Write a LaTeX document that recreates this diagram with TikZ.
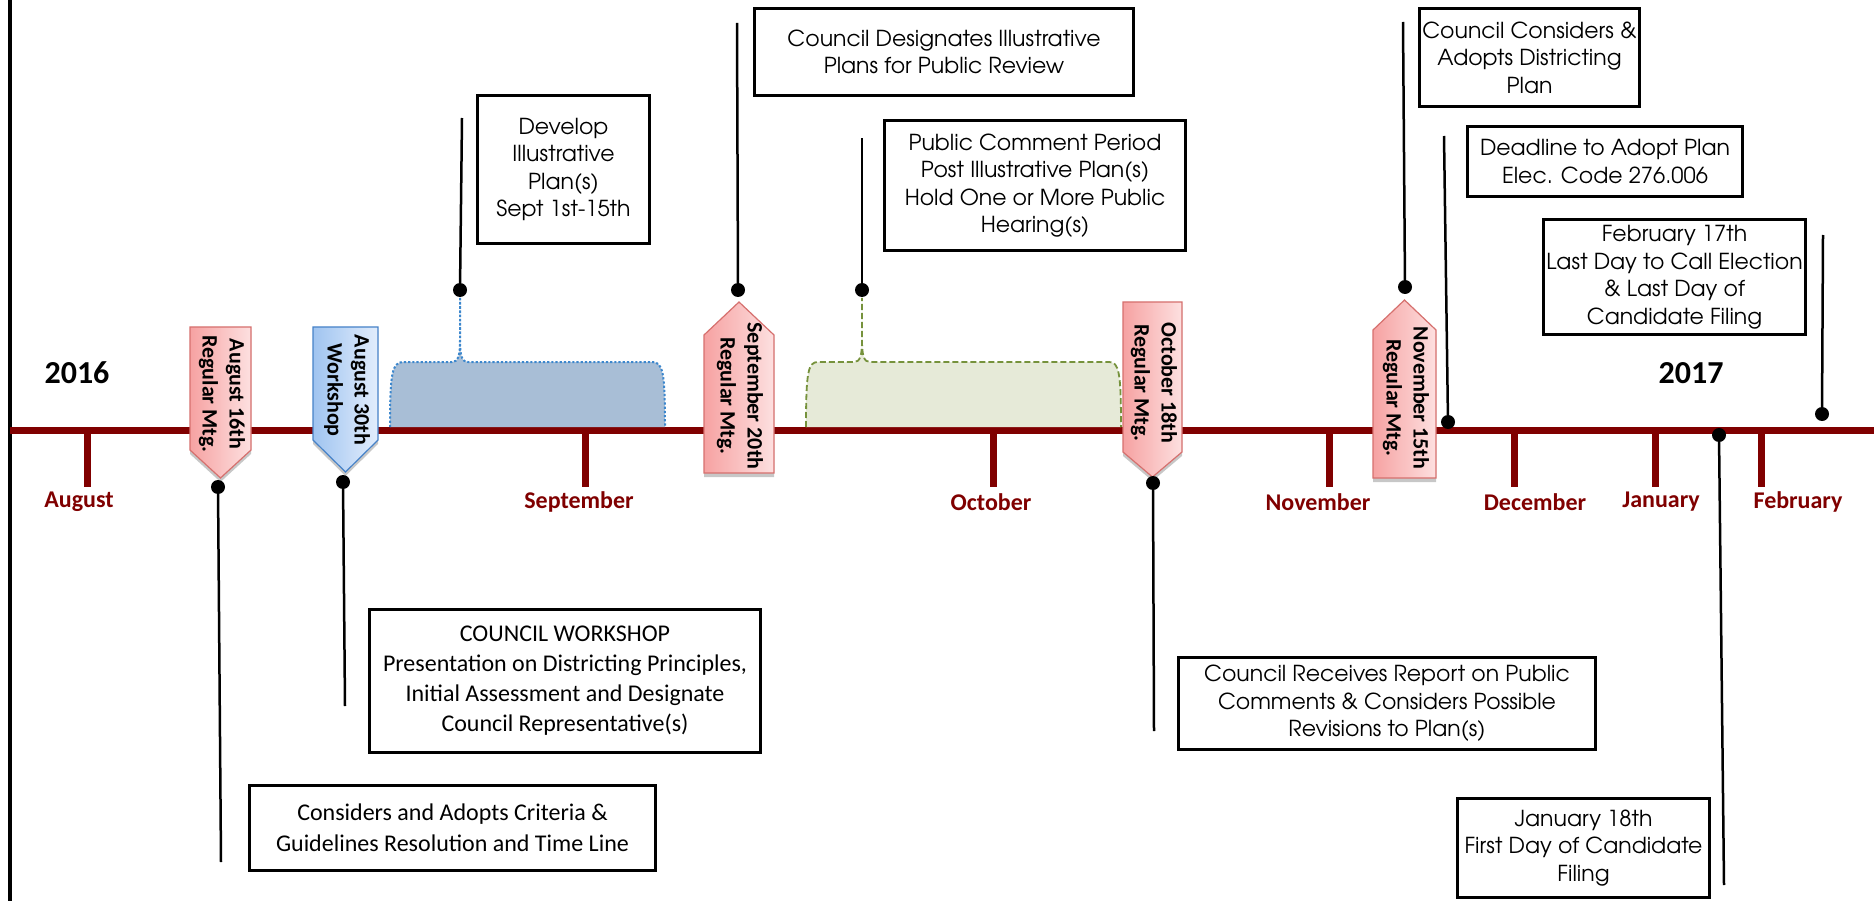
\documentclass[tikz,border=0pt]{standalone}
\usepackage{fontspec}
\usetikzlibrary{shadows}
\newfontfamily\calibrifont{Carlito}
\newfontfamily\gothicfont{TeX Gyre Adventor}
\definecolor{tlred}{RGB}{128,0,0}
\definecolor{tagredL}{RGB}{246,162,162}
\definecolor{tagredR}{RGB}{253,224,224}
\definecolor{tagredB}{RGB}{214,112,110}
\definecolor{tagblueL}{RGB}{160,196,240}
\definecolor{tagblueR}{RGB}{226,237,252}
\definecolor{tagblueB}{RGB}{70,130,200}
\definecolor{blueFill}{RGB}{168,190,214}
\definecolor{blueLine}{RGB}{60,135,205}
\definecolor{greenFill}{RGB}{230,234,216}
\definecolor{greenLine}{RGB}{118,146,60}
\begin{document}
\begin{tikzpicture}[x=1pt,y=-1pt,
  tl/.style={line width=7pt, draw=tlred},
  mtick/.style={line width=7pt, draw=tlred},
  month/.style={text=tlred, inner sep=0pt, font=\calibrifont\bfseries\fontsize{24}{28}\selectfont},
  year/.style={inner sep=0pt, font=\calibrifont\bfseries\fontsize{32}{36}\selectfont},
  gbox/.style={draw=black, line width=3pt, align=center, inner xsep=0pt, inner ysep=0pt, font=\gothicfont\fontsize{22}{27.5}\selectfont},
  cbox/.style={gbox, font=\calibrifont\fontsize{24}{30}\selectfont},
  dot/.style={circle, fill=black, inner sep=0pt, minimum size=14pt},
  conn/.style={line width=2.5pt, draw=black},
  tagred/.style={draw=tagredB, line width=1.2pt, left color=tagredL, right color=tagredR,
     drop shadow={shadow xshift=0pt, shadow yshift=-4pt, opacity=0.22, fill=black}},
  tagblue/.style={draw=tagblueB, line width=1.2pt, left color=tagblueL, right color=tagblueR,
     drop shadow={shadow xshift=0pt, shadow yshift=-4pt, opacity=0.22, fill=black}},
  tagtext/.style={rotate=-90, align=center, inner sep=0pt, font=\calibrifont\bfseries\fontsize{22}{27}\selectfont}
]
\useasboundingbox[fill=white] (0,0) rectangle (1874,901);

% frame line and timeline
\coordinate (frT) at (10,0);
\coordinate (frB) at (10,901);
\draw[line width=3.5pt] (frT) -- (frB);
\coordinate (tlL) at (10,430);
\coordinate (tlR) at (1874,430);
\draw[tl] (tlL) -- (tlR);

% month ticks
\foreach \n/\x in {aug/87,sep/585,oct/993,nov/1329,dec/1514,jan/1655,feb/1761}{
  \coordinate (t\n a) at (\x,430);
  \coordinate (t\n b) at (\x,487);
  \draw[mtick] (t\n a) -- (t\n b);
}

% month labels
\node[month] (mAug) at (79,502) {August};
\node[month] (mSep) at (579,502) {September};
\node[month] (mOct) at (991,502) {October};
\node[month] (mNov) at (1318,502) {November};
\node[month] (mDec) at (1535,502) {December};
\node[month] (mJan) at (1661,502) {January};
\node[month] (mFeb) at (1798,502) {February};

% years
\node[year] (y16) at (77,373) {2016};
\node[year] (y17) at (1691,373) {2017};

% shaded periods
\path[draw=blueLine, fill=blueFill, line width=2pt, dash pattern=on 2.2pt off 2pt]
  (390,427) .. controls (390,372) and (392,362) .. (404,362) -- (452,362)
  .. controls (458,362) and (460,356) .. (460,340) -- (460,297) -- (460,340)
  .. controls (460,356) and (462,362) .. (468,362) -- (652,362)
  .. controls (663,362) and (665,372) .. (665,427);
\path[draw=greenLine, fill=greenFill, line width=1.8pt, dash pattern=on 6pt off 3pt]
  (806,427) .. controls (806,372) and (808,362) .. (818,362) -- (854,362)
  .. controls (860,362) and (862,356) .. (862,340) -- (862,298) -- (862,340)
  .. controls (862,356) and (864,362) .. (870,362) -- (1109,362)
  .. controls (1119,362) and (1121,372) .. (1121,427);

% markers
\path[tagred] (190,327) -- (251,327) -- (251,450) -- (220.5,478) -- (190,450) -- cycle;
\node[tagtext] (mk1) at (222,394) {August 16th\\Regular Mtg.};
\path[tagblue] (313,327) -- (378,327) -- (378,440) -- (345.5,472) -- (313,440) -- cycle;
\node[tagtext] (mk2) at (347,390) {August 30th\\Workshop};
\path[tagred] (739,302) -- (774,335) -- (774,473) -- (704,473) -- (704,335) -- cycle;
\node[tagtext] (mk3) at (740,396) {September 20th\\Regular Mtg.};
\path[tagred] (1123,302) -- (1182,302) -- (1182,452) -- (1152.5,477) -- (1123,452) -- cycle;
\node[tagtext] (mk4) at (1154,383) {October 18th\\Regular Mtg.};
\path[tagred] (1404.5,300) -- (1436,330) -- (1436,478) -- (1373,478) -- (1373,330) -- cycle;
\node[tagtext] (mk5) at (1406,398) {November 15th\\Regular Mtg.};

% boxes
\node[gbox, minimum width=172pt, minimum height=148pt] (bDev) at (563.5,169.5)
  {Develop\\Illustrative\\Plan(s)\\Sept 1st-15th};
\node[gbox, minimum width=379pt, minimum height=87pt] (bDes) at (944,52)
  {Council Designates Illustrative\\Plans for Public Review};
\node[gbox, minimum width=301pt, minimum height=130pt] (bPub) at (1035,185.5)
  {Public Comment Period\\Post Illustrative Plan(s)\\Hold One or More Public\\Hearing(s)};
\node[gbox, minimum width=220pt, minimum height=98pt] (bAdo) at (1529.5,57.5)
  {Council Considers \&\\Adopts Districting\\Plan};
\node[gbox, minimum width=275pt, minimum height=70pt] (bDea) at (1605,161.5)
  {Deadline to Adopt Plan\\Elec. Code 276.006};
\node[gbox, minimum width=262pt, minimum height=115pt] (bFeb) at (1674.5,277)
  {February 17th\\Last Day to Call Election\\\& Last Day of\\Candidate Filing};
\node[cbox, minimum width=391pt, minimum height=143pt] (bWor) at (565,681)
  {COUNCIL WORKSHOP\\Presentation on Districting Principles,\\Initial Assessment and Designate\\Council Representative(s)};
\node[cbox, minimum width=406pt, minimum height=85pt, font=\calibrifont\fontsize{24}{31}\selectfont] (bCri) at (452.5,828)
  {Considers and Adopts Criteria \&\\Guidelines Resolution and Time Line};
\node[gbox, minimum width=417pt, minimum height=92pt] (bRec) at (1387,703.5)
  {Council Receives Report on Public\\Comments \& Considers Possible\\Revisions to Plan(s)};
\node[gbox, minimum width=252pt, minimum height=99pt] (bJan) at (1583.5,848)
  {January 18th\\First Day of Candidate\\Filing};

% dots and connectors
\node[dot] (d1) at (218,487) {};
\coordinate (e1) at (221,862);
\draw[conn] (d1) -- (e1);
\node[dot] (d2) at (343,482) {};
\coordinate (e2) at (345,706);
\draw[conn] (d2) -- (e2);
\node[dot] (d3) at (460,290) {};
\coordinate (e3) at (462,118);
\draw[conn] (d3) -- (e3);
\node[dot] (d4) at (738,290) {};
\coordinate (e4) at (737,23);
\draw[conn] (d4) -- (e4);
\node[dot] (d5) at (862,290) {};
\coordinate (e5) at (862,138);
\draw[conn] (d5) -- (e5);
\node[dot] (d6) at (1153,483) {};
\coordinate (e6) at (1154,731);
\draw[conn] (d6) -- (e6);
\node[dot] (d7) at (1405,287) {};
\coordinate (e7) at (1403,22);
\draw[conn] (d7) -- (e7);
\node[dot] (d8) at (1448,422) {};
\coordinate (e8) at (1444,136);
\draw[conn] (d8) -- (e8);
\node[dot] (d9) at (1822,414) {};
\coordinate (e9) at (1823,235);
\draw[conn] (d9) -- (e9);
\node[dot] (d10) at (1719,435) {};
\coordinate (e10) at (1724,885);
\draw[conn] (d10) -- (e10);
\end{tikzpicture}
\end{document}
